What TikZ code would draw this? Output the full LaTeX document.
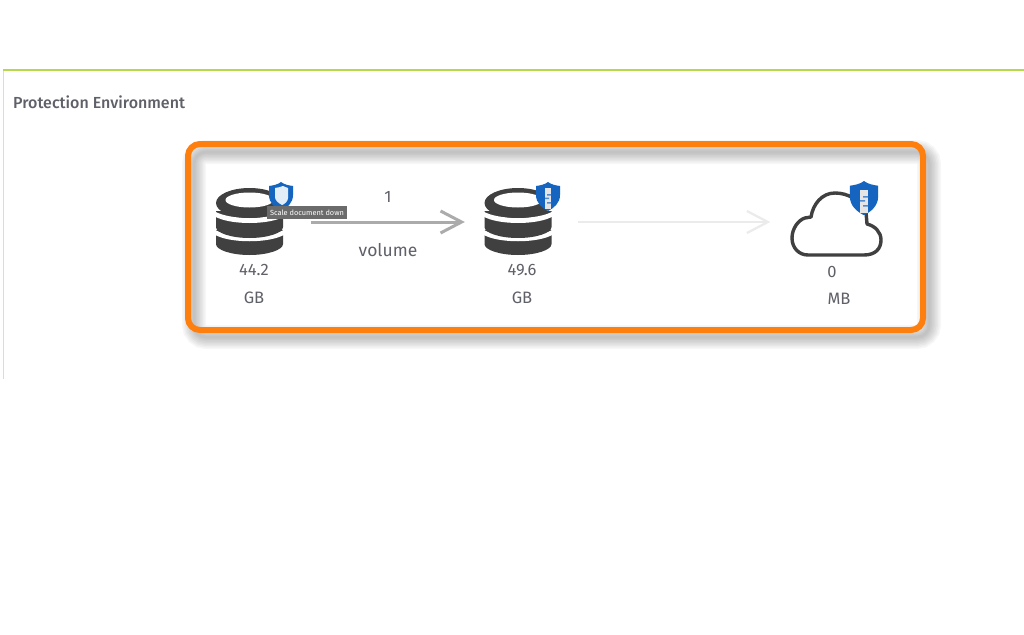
\documentclass[tikz,border=0pt]{standalone}
\usepackage{fontspec}
\setmainfont{Fira Sans}
\usetikzlibrary{arrows.meta}
\definecolor{frameorange}{HTML}{FF7F0E}
\definecolor{icondark}{HTML}{404040}
\definecolor{shieldblue}{HTML}{1565C0}
\definecolor{textgray}{HTML}{5F6068}
\definecolor{panelgreen}{HTML}{B5D84C}
\tikzset{
  x=1pt,y=-1pt,
  lbl/.style={font=\fontsize{16.5}{18}\selectfont,text=textgray,inner sep=0pt},
  iconbox/.style={inner sep=0pt,minimum width=#1,minimum height=66pt},
  flowactive/.style={draw=black!33,line width=3pt,-{Straight Barb[length=21pt,width=22pt]}},
  flowidle/.style={draw=black!8,line width=2.2pt,-{Straight Barb[length=21pt,width=22pt]}},
  pics/dbicon/.style={code={
    \fill[icondark] (-33.5,8) -- (33.5,8) -- (33.5,22) .. controls (33.5,28) and (18,33) .. (0,33) .. controls (-18,33) and (-33.5,28) .. (-33.5,22) -- cycle;
    \fill[white] (-35,7.5) .. controls (-20,16.5) and (20,16.5) .. (35,7.5) -- (35,12.5) .. controls (20,21.5) and (-20,21.5) .. (-35,12.5) -- cycle;
    \fill[icondark] (-33.5,-11) -- (33.5,-11) -- (33.5,5) .. controls (33.5,11) and (18,16) .. (0,16) .. controls (-18,16) and (-33.5,11) .. (-33.5,5) -- cycle;
    \fill[white] (-35,-10.75) .. controls (-20,-1.75) and (20,-1.75) .. (35,-10.75) -- (35,-5.75) .. controls (20,3.25) and (-20,3.25) .. (-35,-5.75) -- cycle;
    \fill[icondark] (0,-19) ellipse [x radius=33.5,y radius=15];
    \fill[white] (0,-22) ellipse [x radius=24,y radius=7.5];
  }},
  pics/shield/.style={code={
    \fill[shieldblue] (0,0) .. controls (3,2.5) and (8,3.5) .. (12,4) -- (12,13) .. controls (12,21) and (6,26) .. (0,29) .. controls (-6,26) and (-12,21) .. (-12,13) -- (-12,4) .. controls (-8,3.5) and (-3,2.5) .. (0,0) -- cycle;
  }},
}
\begin{document}
\begin{tikzpicture}
\useasboundingbox (0,0) rectangle (1024,634);
\fill[white] (0,0) rectangle (1024,634);
% panel
\draw[black!14,line width=1.2pt] (3.5,70) -- (3.5,379);
\draw[panelgreen,line width=1.2pt] (3,70) -- (1024,70);
\node[anchor=west,inner sep=0pt,text=textgray,font=\fontsize{16}{18}\selectfont\fontspec{Fira Sans Medium}] (title) at (13,102) {Protection Environment};
% soft shadow of the frame
\foreach \w in {24,21,18,15,12,9,6,3}{
  \draw[black,opacity=0.03,line width=\w pt,rounded corners=12pt] (194,152) rectangle (929,337);
}
% frame
\node[draw=frameorange,line width=6pt,rounded corners=12pt,minimum width=735pt,minimum height=186pt,inner sep=0pt] (frame) at (555.5,237) {};
% icons
\node[iconbox=68pt] (db1) at (249.5,222) {};
\node[iconbox=68pt] (db2) at (518,222) {};
\node[iconbox=92pt] (cloud) at (836.5,224) {};
\pic at (db1.center) {dbicon};
\pic at (db2.center) {dbicon};
\draw[icondark,line width=3.4pt,line join=round]
  (808,255) -- (864,255) .. controls (875,255) and (881,249) .. (881,240)
  .. controls (881,232) and (875,226) .. (867,224)
  -- (866,212) .. controls (860,200) and (848,193) .. (835,193)
  .. controls (822,193) and (813,204) .. (811,217)
  -- (805,218) .. controls (798,220) and (792,229) .. (792,238)
  .. controls (792,248) and (799,255) .. (808,255) -- cycle;
% shields
\pic at (281,182) {shield};
\fill[white!88!shieldblue] (275,188) .. controls (278,187.5) and (281,187) .. (283,186) .. controls (285,187) and (286,187.5) .. (288,188) -- (288,198) .. controls (288,201) and (285,204) .. (282,205) .. controls (278,203) and (275,200) .. (275,197) -- cycle;
\pic at (548,182) {shield};
\pic[scale=1.18] at (864,181) {shield};
\fill[black!10] (545,188) rectangle (551,209);
\fill[shieldblue!75!white] (547,194) rectangle (551,195.5) (545,197.5) rectangle (549,199) (547,202) rectangle (551,203.5);
\fill[black!10] (860,190) rectangle (868,213);
\fill[shieldblue!75!white] (863,196) rectangle (868,197.5) (860,200) rectangle (865,201.5) (863,205) rectangle (868,206.5);
% connectors
\draw[flowactive,shorten <=27pt,shorten >=19pt] (db1.east) -- (db2.west);
\draw[flowidle,shorten <=26pt,shorten >=20pt] (db2.east) -- (db2.east -| cloud.west);
% labels
\node[lbl] (n1) at (388,197) {1};
\node[lbl,font=\fontsize{17.5}{19}\selectfont] (vol) at (388,250) {volume};
\node[lbl] (a1) at (254,269.5) {44.2};
\node[lbl] (a2) at (254,297.5) {GB};
\node[lbl] (b1) at (522,270.5) {49.6};
\node[lbl] (b2) at (522,297.5) {GB};
\node[lbl] (c1) at (832,271.5) {0};
\node[lbl] (c2) at (839,298.5) {MB};
% tooltip
\node[fill=black!58,text=white,font=\fontsize{7.4}{8}\selectfont,inner sep=0pt,minimum width=80pt,minimum height=13pt] (tip) at (307,212.5) {Scale document down};
\end{tikzpicture}
\end{document}
